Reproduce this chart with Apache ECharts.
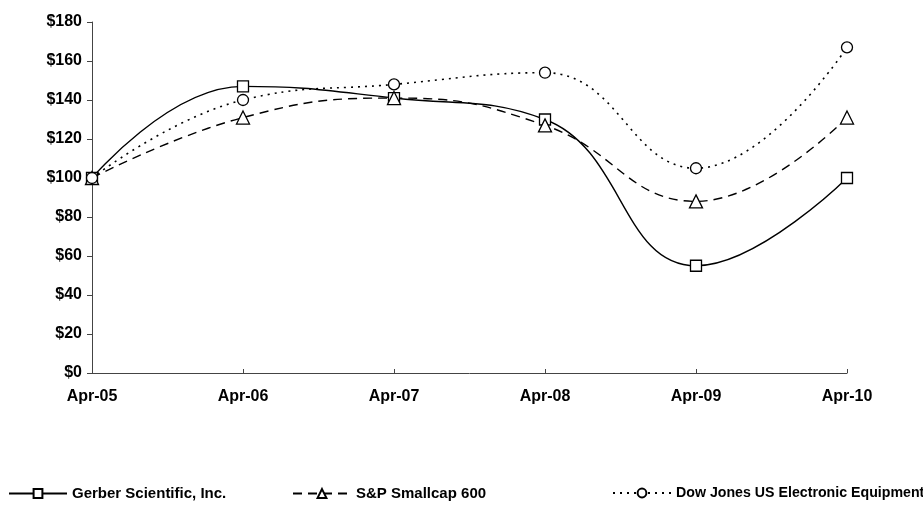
<!DOCTYPE html>
<html>
<head>
<meta charset="utf-8">
<script src="https://cdn.jsdelivr.net/npm/echarts@6/dist/echarts.min.js"></script>
<style>
  html, body { margin: 0; padding: 0; background: #fff; }
  #chart { width: 923px; height: 519px; }
</style>
</head>
<body>
<div id="chart"></div>
<script>
// Five-year cumulative total return, indexed to $100 in April 2005
const categories = ['Apr-05', 'Apr-06', 'Apr-07', 'Apr-08', 'Apr-09', 'Apr-10'];
const gerber = [100, 147, 141, 130, 55, 100];
const smallcap = [100, 131, 141, 127, 88, 131];
const dowElec = [100, 140, 148, 154, 105, 167];
const yTicks = { min: 0, max: 180, step: 20 };

const seriesNames = ['Gerber Scientific, Inc.', 'S&P Smallcap 600', 'Dow Jones US Electronic Equipment'];
const FONT = '"Liberation Sans", Arial, sans-serif';

const chart = echarts.init(document.getElementById('chart'), null, { renderer: 'canvas' });

function lineSeries(name, data, symbol, size, dash, width) {
  return {
    name: name,
    type: 'line',
    data: data,
    smooth: 0.45,
    symbol: symbol,
    symbolSize: size,
    showAllSymbol: true,
    itemStyle: { color: '#fff', borderColor: '#000', borderWidth: 1.3 },
    lineStyle: { color: '#000', width: width, type: dash },
    emphasis: { disabled: true },
    z: 3
  };
}

function legendAt(left, name, fontSize) {
  return {
    data: [name],
    left: left,
    top: 486,
    padding: 0,
    itemWidth: 58,
    itemHeight: 11,
    itemGap: 8,
    textStyle: { color: '#000', fontFamily: FONT, fontWeight: 'bold', fontSize: fontSize },
    selectedMode: false
  };
}

chart.setOption({
  backgroundColor: '#fff',
  animation: false,
  grid: { left: 92, right: 76, top: 22, bottom: 146, containLabel: false },
  legend: [
    legendAt(8, seriesNames[0], 15),
    legendAt(292, seriesNames[1], 15),
    legendAt(612, seriesNames[2], 14.2)
  ],
  xAxis: {
    type: 'category',
    data: categories,
    boundaryGap: false,
    axisLine: { lineStyle: { color: '#444', width: 1 } },
    axisTick: { show: true, inside: true, length: 4, lineStyle: { color: '#444' } },
    axisLabel: { color: '#000', fontFamily: FONT, fontWeight: 'bold', fontSize: 16, margin: 16 },
    splitLine: { show: false }
  },
  yAxis: {
    type: 'value',
    min: yTicks.min,
    max: yTicks.max,
    interval: yTicks.step,
    axisLine: { show: true, lineStyle: { color: '#444', width: 1 } },
    axisTick: { show: true, length: 5, lineStyle: { color: '#444' } },
    axisLabel: {
      color: '#000', fontFamily: FONT, fontWeight: 'bold', fontSize: 16, margin: 10,
      formatter: v => '$' + v
    },
    splitLine: { show: false }
  },
  series: [
    lineSeries(seriesNames[0], gerber, 'rect', 11, 'solid', 1.4),
    lineSeries(seriesNames[1], smallcap, 'triangle', 13, [9, 6], 1.4),
    lineSeries(seriesNames[2], dowElec, 'circle', 11, [2, 5], 1.6)
  ]
});
</script>
</body>
</html>
